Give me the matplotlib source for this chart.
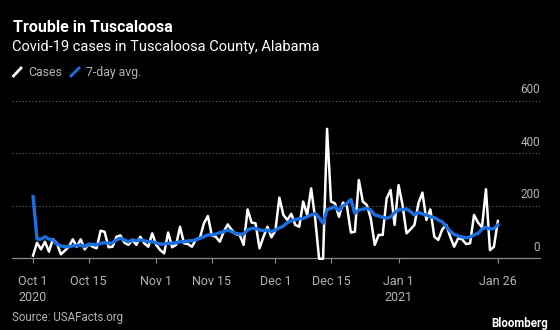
import matplotlib
matplotlib.use("Agg")
import matplotlib.pyplot as plt
from matplotlib.lines import Line2D
import pandas as pd

# daily new cases, Oct 1 2020 .. Jan 26 2021
cases = [9, 58, 33, 62, 24, 72, 56, 14, 28, 43,
         71, 43, 71, 33, 53, 43, 37, 104, 100, 41,
         43, 81, 86, 58, 50, 69, 50, 81, 56, 43,
         94, 50, 30, 18, 97, 41, 50, 119, 56, 53,
         43, 71, 77, 132, 160, 86, 81, 62, 100, 128,
         107, 91, 88, 50, 185, 135, 132, 37, 81, 119,
         79, 105, 230, 164, 145, 168, 126, 119, 215, 164,
         265, 151, -3, -3, 492, 215, 208, 157, 211, 198,
         97, 100, 297, 215, 202, 151, 50, 88, 88, 227,
         259, 126, 278, 202, 94, 109, 126, 208, 249, 145,
         185, 81, 69, 109, 126, 81, 43, 75, 71, 53,
         56, 164, 135, 117, 262, 30, 43, 141]

# 7-day average
avg7 = [234, 72, 72, 81, 72, 69, 53, 46, 43, 43,
        46, 47, 50, 43, 53, 52, 50, 56, 58, 56,
        58, 69, 75, 69, 62, 69, 66, 69, 66, 62,
        62, 58, 53, 53, 56, 56, 58, 62, 62, 65,
        66, 69, 75, 81, 88, 88, 91, 97, 100, 107,
        100, 94, 91, 91, 107, 113, 113, 107, 104, 107,
        100, 107, 115, 122, 135, 142, 147, 149, 151, 157,
        164, 170, 154, 132, 185, 189, 196, 180, 198, 208,
        223, 170, 183, 186, 189, 183, 164, 160, 155, 151,
        157, 173, 183, 185, 187, 177, 164, 174, 168, 164,
        157, 154, 145, 137, 120, 102, 90, 84, 80, 77,
        80, 88, 94, 110, 117, 110, 113, 126]

dates = pd.date_range("2020-10-01", periods=len(cases), freq="D")

tick_dates = ["2020-10-01", "2020-10-15", "2020-11-01", "2020-11-15",
              "2020-12-01", "2020-12-15", "2021-01-01", "2021-01-26"]
tick_labels = ["Oct 1\n2020", "Oct 15", "Nov 1", "Nov 15",
               "Dec 1", "Dec 15", "Jan 1\n2021", "Jan 26"]
y_ticks = [0, 200, 400, 600]

BG = "black"
BLUE = "#1a6fe3"
GREY = "#b4b4b4"

plt.rcParams["font.family"] = ["Roboto", "DejaVu Sans"]

fig = plt.figure(figsize=(5.6, 3.3), dpi=100, facecolor=BG)
ax = fig.add_axes([12 / 560, 1 - 258 / 330, 528 / 560, 162.75 / 330])
ax.set_facecolor(BG)

ax.plot(dates, cases, color="white", lw=1.8, clip_on=False, zorder=3)
ax.plot(dates, avg7, color=BLUE, lw=2.4, clip_on=False, zorder=4)

start = pd.Timestamp("2020-10-01")
ax.set_xlim(start - pd.Timedelta(days=5.3), start + pd.Timedelta(days=127.6))
ax.set_ylim(0, 620)

for s in ["top", "left", "right"]:
    ax.spines[s].set_visible(False)
ax.spines["bottom"].set_color("#8a8a8a")
ax.spines["bottom"].set_linewidth(0.9)

ax.set_xticks(pd.to_datetime(tick_dates))
ax.set_xticklabels(tick_labels, fontsize=9, color=GREY, linespacing=1.3)
ax.tick_params(axis="x", length=3.5, width=0.8, color="#8a8a8a", pad=9)
ax.set_yticks([])

for v in y_ticks[1:]:
    ax.axhline(v, color="#6a6a6a", lw=0.8, ls=(0, (1, 2)), zorder=1)
for v in y_ticks:
    ax.annotate(str(v), xy=(1.0, v), xycoords=ax.get_yaxis_transform(),
                xytext=(0, 5.3), textcoords="offset points",
                ha="right", va="baseline", fontsize=8.5, color=GREY)

fig.text(13 / 560, 1 - 32.3 / 330, "Trouble in Tuscaloosa", fontsize=11.5,
         fontweight="bold", color="white", va="baseline")
fig.text(12 / 560, 1 - 50.7 / 330, "Covid-19 cases in Tuscaloosa County, Alabama",
         fontsize=10.5, color="white", va="baseline")

# legend keys: short slanted strokes
fig.add_artist(Line2D([13.5 / 560, 21 / 560], [1 - 76 / 330, 1 - 68 / 330],
                      color="white", lw=2, transform=fig.transFigure))
fig.text(28 / 560, 1 - 72.5 / 330, "Cases", fontsize=8.8, color=GREY, va="center")
fig.add_artist(Line2D([71 / 560, 79 / 560], [1 - 76 / 330, 1 - 68 / 330],
                      color=BLUE, lw=2, transform=fig.transFigure))
fig.text(86 / 560, 1 - 72.5 / 330, "7-day avg.", fontsize=8.8, color=GREY, va="center")

fig.text(12.5 / 560, 1 - 321 / 330, "Source: USAFacts.org", fontsize=8.3,
         color=GREY, va="baseline")
fig.text(548 / 560, 1 - 327 / 330, "Bloomberg", fontsize=8.3, fontweight="bold",
         color="white", ha="right", va="baseline")

fig.savefig("out.png", dpi=100, facecolor=BG)
